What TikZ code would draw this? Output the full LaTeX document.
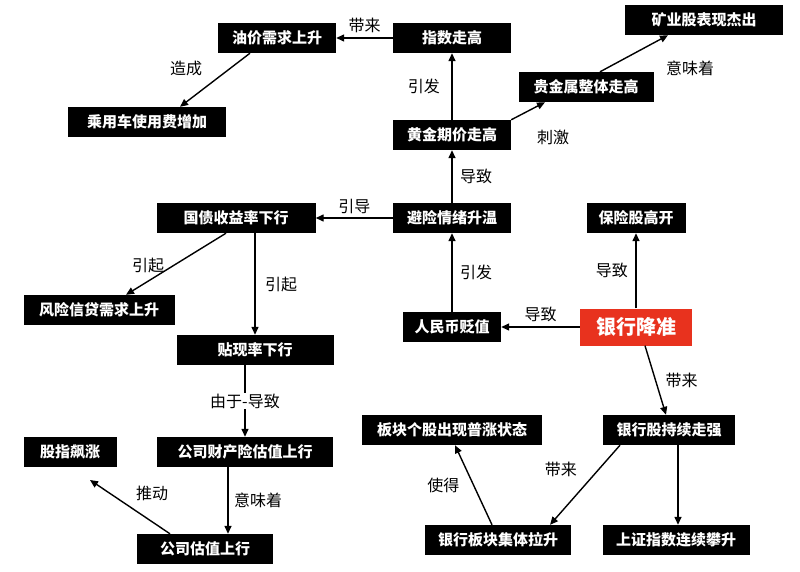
\documentclass[tikz,border=0pt]{standalone}
\usepackage{fontspec}
\setmainfont{Noto Sans CJK SC}
\usetikzlibrary{arrows.meta}
\definecolor{redb}{HTML}{E8321E}
\begin{document}
\begin{tikzpicture}[x=1pt,y=-1pt,
 box/.style={fill=black,text=white,inner sep=0pt,minimum height=30pt,font=\fontsize{15}{17}\selectfont\bfseries},
 arr/.style={-{Triangle[length=8pt,width=7pt]},line width=1.4pt},
 lab/.style={font=\fontsize{16}{18}\selectfont}]
\useasboundingbox (0,0) rectangle (800,572);
\node[box,minimum width=118pt] (oil) at (277,38) {油价需求上升};
\node[box,minimum width=118pt] (idx) at (452,38) {指数走高};
\node[box,minimum width=158pt] (mine) at (704,20) {矿业股表现杰出};
\node[box,minimum width=158pt] (car) at (147,122) {乘用车使用费增加};
\node[box,minimum width=135pt] (metal) at (586,87) {贵金属整体走高};
\node[box,minimum width=118pt] (gold) at (452,135) {黄金期价走高};
\node[box,minimum width=159pt] (bond) at (236,218) {国债收益率下行};
\node[box,minimum width=118pt] (safe) at (452,218) {避险情绪升温};
\node[box,minimum width=99pt] (ins) at (636,218) {保险股高开};
\node[box,minimum width=151pt] (risk) at (99,310) {风险信贷需求上升};
\node[box,minimum width=98pt] (rmb) at (452,327) {人民币贬值};
\node[box,fill=redb,minimum width=112pt,minimum height=37pt,font=\fontsize{20}{22}\selectfont\bfseries] (rrr) at (636,327) {银行降准};
\node[box,minimum width=157pt] (disc) at (255,350) {贴现率下行};
\node[box,minimum width=180pt] (blk) at (452,430) {板块个股出现普涨状态};
\node[box,minimum width=132pt] (bank) at (669,430) {银行股持续走强};
\node[box,minimum width=93pt] (gz) at (70,452) {股指飙涨};
\node[box,minimum width=176pt] (prop) at (245,452) {公司财产险估值上行};
\node[box,minimum width=136pt] (val) at (205,549) {公司估值上行};
\node[box,minimum width=146pt] (bkup) at (498,540) {银行板块集体拉升};
\node[box,minimum width=147pt] (sz) at (676,540) {上证指数连续攀升};
\draw[arr] (idx) -- (oil) node[lab,midway,above=1pt] {带来};
\draw[arr] (oil.south -| 250,0) -- (car.north -| 180,0);
\node[lab] at (186,68) {造成};
\draw[arr] (gold) -- (idx) node[lab,midway,left=8pt] {引发};
\draw[arr] (gold.north east) -- (metal.south -| 545,0);
\node[lab] at (553,137) {刺激};
\draw[arr] (metal.north -| 600,0) -- (mine.south -| 668,0);
\node[lab] at (690,68) {意味着};
\draw[arr] (safe) -- (gold) node[lab,midway,right=4pt] {导致};
\draw[arr] (safe) -- (bond) node[lab,midway,above=0pt] {引导};
\draw[arr] (bond.south -| 226,0) -- (risk.north -| 126,0);
\node[lab] at (148,265) {引起};
\draw[arr] (bond.south -| disc.north) -- (disc.north) node[lab,midway,right=6pt] {引起};
\draw[arr] (rmb) -- (safe) node[lab,midway,right=4pt] {引发};
\draw[arr] (rrr) -- (rmb) node[lab,midway,above=1pt] {导致};
\draw[arr] (rrr) -- (ins) node[lab,midway,left=4pt] {导致};
\draw[arr] (rrr.south -| 645,0) -- (bank.north -| 666,0) node[lab,midway,right=6pt] {带来};
\draw[arr] (disc.south -| 245,0) -- (prop.north -| 245,0) node[lab,midway,fill=white,inner sep=1pt] {由于-导致};
\draw[arr] (prop.south -| 228,0) -- (val.north -| 228,0) node[lab,midway,right=2pt] {意味着};
\draw[arr] (val.north -| 170,0) -- (90,480) node[lab,midway,above right=2pt] {推动};
\draw[arr] (bank.south -| 620,0) -- (bkup.north -| 550,0) node[lab,midway,above left=4pt] {带来};
\draw[arr] (bank.south -| 678,0) -- (sz.north -| 678,0);
\draw[arr] (bkup.north -| 492,0) -- (blk.south -| 455,0) node[lab,midway,left=10pt] {使得};
\end{tikzpicture}
\end{document}
